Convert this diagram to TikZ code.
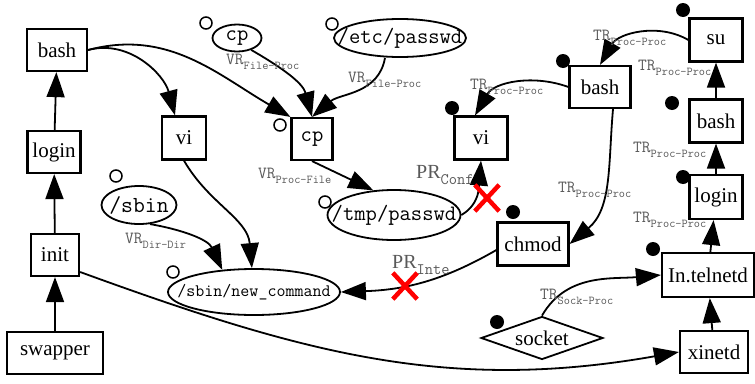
\documentclass[tikz,border=0pt]{standalone}
\usepackage{fontspec}
\setmainfont{Liberation Serif}
\usetikzlibrary{shapes.geometric,arrows.meta}

\newcommand{\elab}[2]{#1\raisebox{-5pt}{\fontsize{12}{12}\selectfont #2}}
\newcommand{\nowidth}[1]{\makebox[0pt]{#1}}

\begin{document}
\begin{tikzpicture}[x=1pt,y=-1pt,
  proc/.style={draw,line width=2.2pt,inner sep=0pt,font=\fontsize{21}{24}\selectfont,minimum height=42pt},
  file/.style={draw,ellipse,line width=1.8pt,inner sep=0pt,font=\ttfamily\fontsize{22}{24}\selectfont},
  hole/.style={circle,draw,line width=1.5pt,inner sep=0pt,minimum size=12pt},
  dot/.style={circle,fill,inner sep=0pt,minimum size=14pt},
  lab/.style={anchor=west,inner sep=0pt,text=black!65,font=\ttfamily\fontsize{17}{17}\selectfont},
  biglab/.style={anchor=west,inner sep=0pt,text=black!65,font=\fontsize{20}{20}\selectfont},
  flow/.style={line width=1.8pt,-{Triangle[length=25pt,width=18pt]}},
  nocross/.style={red,line width=4.5pt}]
\useasboundingbox (0,0) rectangle (755,383);

% left side: process chain
\node[proc,minimum width=60pt] (bashA) at (57,50) {bash};
\node[proc,minimum width=53pt] (loginA) at (54,152) {login};
\node[proc,minimum width=48pt] (initA) at (55,255) {init};
\node[proc,minimum width=96pt] (swapper) at (55,353) {swapper};
\node[proc,minimum width=44pt,minimum height=43pt] (viA) at (184,138) {vi};

% files
\node[file,minimum width=49pt,minimum height=27pt] (cpfile) at (237,38) {\nowidth{cp}};
\node[file,minimum width=132pt,minimum height=38pt] (etcpw) at (400,38) {\nowidth{/etc/passwd}};
\node[proc,minimum width=41pt,font=\ttfamily\fontsize{22}{24}\selectfont] (cpproc) at (312,139) {cp};
\node[file,minimum width=133pt,minimum height=50pt] (tmppw) at (394,215) {\nowidth{/tmp/passwd}};
\node[file,minimum width=75pt,minimum height=38pt,font=\ttfamily\fontsize{23}{24}\selectfont] (sbin) at (139,205) {\nowidth{/sbin}};
\node[file,minimum width=172pt,minimum height=46pt,font=\ttfamily\fontsize{17.5}{20}\selectfont] (newcmd) at (254,292) {\nowidth{/sbin/new\_command}};

% right side
\node[proc,minimum width=53pt,minimum height=43pt] (viB) at (481,138) {vi};
\node[proc,minimum width=61pt] (bashB) at (600,87) {bash};
\node[proc,minimum width=53pt,minimum height=43pt] (su) at (716,40) {su};
\node[proc,minimum width=53pt,minimum height=43pt] (bashC) at (716,121) {bash};
\node[proc,minimum width=53pt,minimum height=44pt] (loginB) at (716,197) {login};
\node[proc,minimum width=92pt,minimum height=44pt] (telnetd) at (708,275) {In.telnetd};
\node[proc,minimum width=68pt] (xinetd) at (714,352) {xinetd};
\node[proc,minimum width=71pt,minimum height=43pt] (chmod) at (533,244) {chmod};
\node[draw,diamond,aspect=2.8,line width=1.8pt,inner sep=0pt,minimum width=122pt,minimum height=43pt,font=\fontsize{21}{24}\selectfont] (socket) at (542,338) {socket};

% markers
\node[hole] (hcpfile) at (206,23) {};
\node[hole] (hetcpw) at (332,24) {};
\node[hole] (hcpproc) at (280,125) {};
\node[hole] (htmppw) at (325,202) {};
\node[hole] (hsbin) at (116,176) {};
\node[hole] (hnewcmd) at (173,272) {};
\node[dot] (dviB) at (452,108) {};
\node[dot] (dbashB) at (563,61) {};
\node[dot] (dsu) at (683,10) {};
\node[dot] (dbashC) at (672,103) {};
\node[dot] (dloginB) at (683,177) {};
\node[dot] (dtelnetd) at (653,249) {};
\node[dot] (dchmod) at (513,212) {};
\node[dot] (dsocket) at (497,322) {};

% edges
\draw[flow] (loginA) -- (bashA);
\draw[flow] (initA) -- (loginA);
\draw[flow] (swapper) -- (initA);
\draw[flow] (bashA.east) to[out=15,in=105] ([xshift=-9pt]viA.north);
\draw[flow] (bashA.east) to[out=15,in=150] (cpproc.north west);
\draw[flow] (viA.south) to[out=-60,in=95] (newcmd.95);
\draw[flow] (sbin.-60) to[out=-10,in=115] (newcmd.145);
\draw[flow] (cpfile.-40) to[out=-30,in=105] (cpproc.north);
\draw[flow] ([xshift=-15pt]etcpw.south) to[out=-100,in=40] (cpproc.north);
\draw[flow] (cpproc.south) to (tmppw.130);
\draw[flow] (tmppw.east) to[out=30,in=-95] (viB.south);
\draw[flow] (bashB.west) to[out=160,in=60] ([xshift=-6pt]viB.north);
\draw[flow] (su.west) to[out=150,in=60] (bashB.north);
\draw[flow] ([xshift=13pt]bashB.south) to[out=-95,in=40] (chmod.east);
\draw[flow] (bashC) -- (su);
\draw[flow] (loginB) -- (bashC);
\draw[flow] (telnetd) -- (loginB);
\draw[flow] (xinetd) -- (telnetd);
\draw[flow] (socket.north) to[out=60,in=185] (telnetd.west);
\draw[flow] ([yshift=-6pt]chmod.west) to[out=210,in=2] (newcmd.east);
\draw[flow] ([yshift=-17pt]initA.east) to[out=-20,in=190] (xinetd.west);

% labels
\node[lab] (lcpfile) at (226,62) {\elab{VR}{File-Proc}};
\node[lab] (letcpw) at (348,80) {\elab{VR}{File-Proc}};
\node[lab] (lcpproc) at (258,176) {\elab{VR}{Proc-File}};
\node[lab] (lsbin) at (125,241) {\elab{VR}{Dir-Dir}};
\node[biglab] (lconf) at (416,175) {PR\raisebox{-6pt}{\ttfamily\fontsize{16}{16}\selectfont Conf}};
\node[biglab] (linte) at (392,265) {PR\raisebox{-6pt}{\ttfamily\fontsize{16}{16}\selectfont Inte}};
\node[lab] (lviB) at (470,87) {\elab{TR}{Proc-Proc}};
\node[lab] (lsu) at (593,38) {\elab{TR}{Proc-Proc}};
\node[lab] (lbashC) at (638,68) {\elab{TR}{Proc-Proc}};
\node[lab] (lloginB) at (633,150) {\elab{TR}{Proc-Proc}};
\node[lab] (lchmod) at (558,190) {\elab{TR}{Proc-Proc}};
\node[lab] (ltelnetd) at (633,220) {\elab{TR}{Proc-Proc}};
\node[lab] (lsocket) at (540,297) {\elab{TR}{Sock-Proc}};

% red crosses
\node[minimum width=24pt,minimum height=26pt,inner sep=0pt] (xconf) at (487,198) {};
\draw[nocross] (xconf.north west) -- (xconf.south east);
\draw[nocross] (xconf.north east) -- (xconf.south west);
\node[minimum width=24pt,minimum height=26pt,inner sep=0pt] (xinte) at (405,286) {};
\draw[nocross] (xinte.north west) -- (xinte.south east);
\draw[nocross] (xinte.north east) -- (xinte.south west);

\end{tikzpicture}
\end{document}
